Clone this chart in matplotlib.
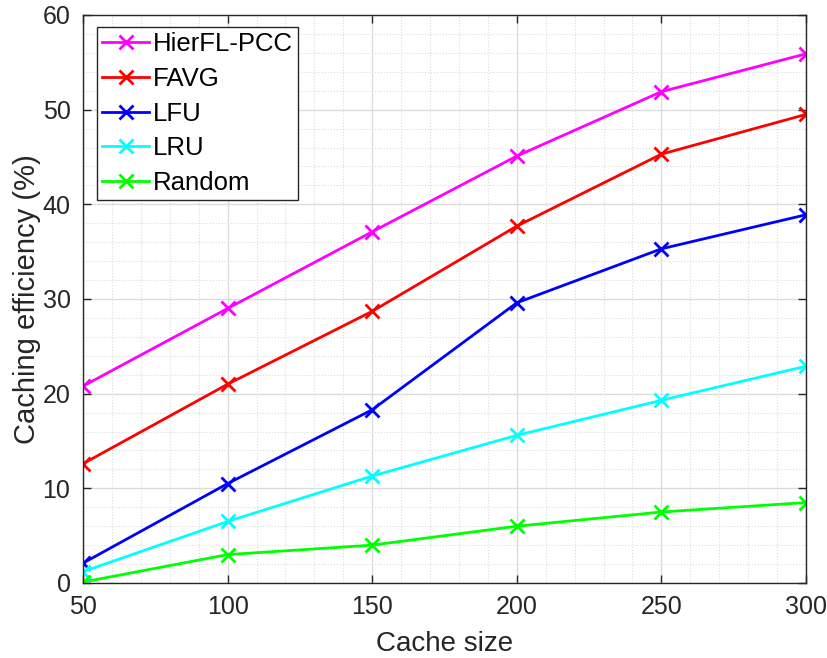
import matplotlib
matplotlib.use("Agg")
import matplotlib.pyplot as plt
from matplotlib.ticker import MultipleLocator

plt.rcParams['font.family'] = ['Liberation Sans', 'DejaVu Sans']

cache_size = [50, 100, 150, 200, 250, 300]
hierfl_pcc = [20.8, 29.0, 37.1, 45.1, 51.9, 55.9]
favg = [12.6, 21.0, 28.7, 37.7, 45.3, 49.5]
lfu = [2.1, 10.5, 18.3, 29.6, 35.3, 38.9]
lru = [1.2, 6.5, 11.3, 15.6, 19.3, 22.9]
random_ = [0.1, 3.0, 4.0, 6.0, 7.5, 8.5]

series = [
    ("HierFL-PCC", hierfl_pcc, "#FF00FF"),
    ("FAVG", favg, "#FF0000"),
    ("LFU", lfu, "#0000FF"),
    ("LRU", lru, "#00FFFF"),
    ("Random", random_, "#00FF00"),
]

fig = plt.figure(figsize=(8.27, 6.58), dpi=100)
# axes from x=83..806 px, y=15..583 px
ax = fig.add_axes([83/827, (658-583)/658, (806-83)/827, (583-15)/658])

for name, vals, col in series:
    ax.plot(cache_size, vals, color=col, lw=2.0, marker='x', ms=10, mew=2.0, label=name)

ax.set_xlim(50, 300)
ax.set_ylim(0, 60)
ax.xaxis.set_major_locator(MultipleLocator(50))
ax.xaxis.set_minor_locator(MultipleLocator(10))
ax.yaxis.set_major_locator(MultipleLocator(10))
ax.yaxis.set_minor_locator(MultipleLocator(2))

ax.grid(which='major', color='#DCDCDC', lw=1.0, ls='-')
ax.grid(which='minor', color='#DCDCDC', lw=0.8, ls=':')
ax.set_axisbelow(True)

for s in ax.spines.values():
    s.set_color('#262626')
    s.set_linewidth(1.0)
ax.tick_params(which='major', direction='in', length=6, width=1.0, color='#262626',
               labelsize=18, labelcolor='#262626', top=True, right=True, pad=9)
ax.tick_params(which='minor', length=0)

ax.set_xlabel("Cache size", fontsize=20, color='#262626', labelpad=8)
ax.set_ylabel("Caching efficiency (%)", fontsize=21, color='#262626', labelpad=1)

leg = ax.legend(loc='upper left', bbox_to_anchor=(0.019, 0.979), fontsize=18.5,
                frameon=True, fancybox=False, edgecolor='#262626', framealpha=1,
                handlelength=1.85, handletextpad=0.15, borderpad=0.2, labelspacing=0.42,
                borderaxespad=0)
leg.get_frame().set_linewidth(1.0)

fig.savefig("out.png", dpi=100)
